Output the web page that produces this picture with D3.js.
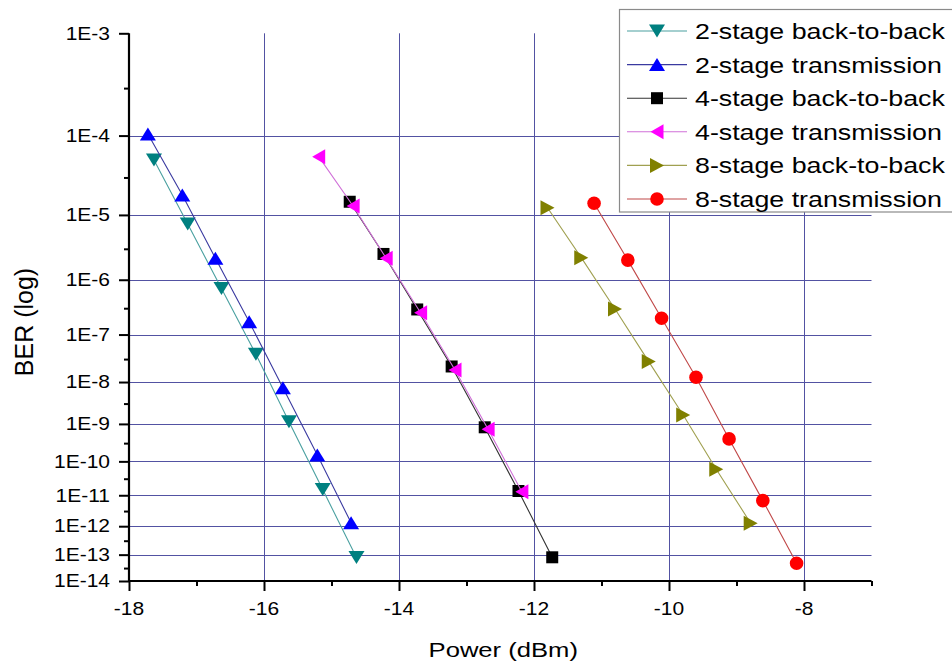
<!DOCTYPE html>
<html>
<head>
<meta charset="utf-8">
<script src="https://cdn.jsdelivr.net/npm/d3@7"></script>
<style>
  html, body { margin: 0; padding: 0; background: #fff; }
  svg { display: block; font-family: "Liberation Sans", Arial, sans-serif; }
</style>
</head>
<body>
<svg id="chart" width="952" height="665"></svg>
<script>
// ---------------- data ----------------
const seriesNames = ["2-stage back-to-back", "2-stage transmission", "4-stage back-to-back",
                     "4-stage transmission", "8-stage back-to-back", "8-stage transmission"];
const power2b2b = [-17.63, -17.13, -16.63, -16.12, -15.63, -15.13, -14.63];
const ber2b2b   = [5.2e-5, 7.4e-6, 7.1e-7, 4.0e-8, 1.14e-9, 1.5e-11, 7.8e-14];
const power2tx  = [-17.72, -17.21, -16.72, -16.22, -15.72, -15.21, -14.71];
const ber2tx    = [1.04e-4, 1.87e-5, 2.25e-6, 1.77e-7, 7.4e-9, 1.5e-10, 1.3e-12];
const power4b2b = [-14.73, -14.23, -13.73, -13.22, -12.73, -12.23, -11.73];
const ber4b2b   = [1.52e-5, 2.63e-6, 3.0e-7, 2.2e-8, 8.2e-10, 1.35e-11, 8.0e-14];
const power4tx  = [-15.19, -14.68, -14.19, -13.68, -13.17, -12.68, -12.18];
const ber4tx    = [5.7e-5, 1.33e-5, 2.25e-6, 2.6e-7, 1.85e-8, 7.3e-10, 1.28e-11];
const power8b2b = [-11.80, -11.30, -10.80, -10.30, -9.79, -9.30, -8.79];
const ber8b2b   = [1.26e-5, 2.3e-6, 3.06e-7, 2.8e-8, 1.67e-9, 6.0e-11, 1.26e-12];
const power8tx  = [-11.11, -10.61, -10.11, -9.60, -9.11, -8.61, -8.11];
const ber8tx    = [1.45e-5, 2.1e-6, 2.06e-7, 1.28e-8, 4.1e-10, 6.8e-12, 4.8e-14];

const xTickValues = [-18, -16, -14, -12, -10, -8];
const xMinorValues = [-17, -15, -13, -11, -9, -7];
const yTickExponents = [3, 4, 5, 6, 7, 8, 9, 10, 11, 12, 13, 14];
const yMinorExponents = [3.5, 4.5, 5.5, 6.5, 7.5, 8.5, 9.5, 10.5, 11.5, 12.5, 13.5];
const xTitle = "Power (dBm)";
const yTitle = "BER (log)";

// ---------------- styles ----------------
const markerColors = ["#008080", "#0000ff", "#000000", "#ff00ff", "#808000", "#ff0000"];
const lineColors   = ["#4aa0a0", "#3a3aa0", "#333333", "#d070d8", "#a0a050", "#c04848"];
const markerTypes  = ["down", "up", "square", "left", "right", "circle"];
const gridColor = "#5252a2";
const FONT_STRETCH = 1.2;

const svg = d3.select("#chart");

const x = d3.scaleLinear().domain([-18, -7]).range([129, 871.5]);
// BER axis: linear in log10(-log10(BER))
const tScale = d3.scaleLinear().domain([Math.log10(3), Math.log10(14)]).range([33.3, 581]);
const yExp = e => tScale(Math.log10(e));             // exponent n -> pixel, BER = 1E-n
const y = ber => tScale(Math.log10(-Math.log10(ber)));

const pLeft = x.range()[0], pRight = x.range()[1];
const pTop = tScale.range()[0], pBottom = tScale.range()[1];

// ---------------- grid ----------------
const grid = svg.append("g");
grid.selectAll("line.h").data(yTickExponents.filter(e => e !== 3 && e !== 14)).enter()
  .append("line")
  .attr("x1", pLeft).attr("x2", pRight)
  .attr("y1", d => Math.round(yExp(d)) + 0.5).attr("y2", d => Math.round(yExp(d)) + 0.5)
  .attr("stroke", gridColor).attr("stroke-width", 1);
grid.selectAll("line.v").data(xTickValues.filter(v => v !== -18)).enter()
  .append("line")
  .attr("y1", pTop).attr("y2", pBottom)
  .attr("x1", d => Math.round(x(d)) + 0.5).attr("x2", d => Math.round(x(d)) + 0.5)
  .attr("stroke", gridColor).attr("stroke-width", 1);

// ---------------- axes ----------------
const yAxisMajor = d3.axisLeft(d3.scaleLinear().domain(tScale.domain()).range(tScale.range()))
  .tickValues(yTickExponents.map(e => Math.log10(e))).tickSize(10).tickFormat("");
const yAxisMinor = d3.axisLeft(d3.scaleLinear().domain(tScale.domain()).range(tScale.range()))
  .tickValues(yMinorExponents.map(e => Math.log10(e))).tickSize(5).tickFormat("");
const gy1 = svg.append("g").attr("transform", `translate(${pLeft},0)`).call(yAxisMajor);
const gy2 = svg.append("g").attr("transform", `translate(${pLeft},0)`).call(yAxisMinor);
gy2.select(".domain").remove();

const xAxisMajor = d3.axisBottom(x).tickValues(xTickValues).tickSize(10).tickFormat("");
const xAxisMinor = d3.axisBottom(x).tickValues(xMinorValues).tickSize(5).tickFormat("");
const gx1 = svg.append("g").attr("transform", `translate(0,${pBottom})`).call(xAxisMajor);
const gx2 = svg.append("g").attr("transform", `translate(0,${pBottom})`).call(xAxisMinor);
gx2.select(".domain").remove();

[gy1, gy2, gx1, gx2].forEach(g => {
  g.selectAll("path.domain").attr("stroke", "#000").attr("stroke-width", 2.2);
  g.selectAll(".tick line").attr("stroke", "#000").attr("stroke-width", 2);
});
gy1.select("path.domain").attr("d", `M0,${pTop}V${pBottom + 1}`);
gx1.select("path.domain").attr("d", `M${pLeft - 1},0H${pRight}`);

// tick labels (horizontally stretched like the reference)
const labels = svg.append("g").attr("font-size", 17.5).attr("fill", "#000");
yTickExponents.forEach(e => {
  labels.append("text")
    .attr("transform", `translate(${pLeft - 19},${yExp(e) + 6.3}) scale(${FONT_STRETCH},1)`)
    .attr("text-anchor", "end").text("1E-" + e);
});
xTickValues.forEach(v => {
  labels.append("text")
    .attr("transform", `translate(${x(v)},${pBottom + 34}) scale(${FONT_STRETCH},1)`)
    .attr("text-anchor", "middle").text(String(v));
});

// axis titles
svg.append("text")
  .attr("transform", `translate(${(pLeft + pRight) / 2 + 3},656.5) scale(1.22,1)`)
  .attr("text-anchor", "middle").attr("font-size", 21).text(xTitle);
svg.append("text")
  .attr("transform", `translate(33,322) rotate(-90)`)
  .attr("text-anchor", "middle").attr("font-size", 25).text(yTitle);

// ---------------- markers ----------------
function markerPath(type, cx, cy) {
  switch (type) {
    case "down":  return `M${cx - 8},${cy - 6.5}L${cx + 8},${cy - 6.5}L${cx},${cy + 6.5}Z`;
    case "up":    return `M${cx - 8},${cy + 6.5}L${cx + 8},${cy + 6.5}L${cx},${cy - 6.5}Z`;
    case "left":  return `M${cx + 6.5},${cy - 7.5}L${cx + 6.5},${cy + 7.5}L${cx - 6.5},${cy}Z`;
    case "right": return `M${cx - 7},${cy - 7.5}L${cx - 7},${cy + 7.5}L${cx + 7},${cy}Z`;
    case "square":return `M${cx - 6},${cy - 6}h12v12h-12Z`;
    case "circle":return `M${cx - 6.8},${cy}a6.8,6.8 0 1,0 13.6,0a6.8,6.8 0 1,0 -13.6,0Z`;
  }
}

const seriesData = [
  [power2b2b, ber2b2b], [power2tx, ber2tx], [power4b2b, ber4b2b],
  [power4tx, ber4tx], [power8b2b, ber8b2b], [power8tx, ber8tx]
].map(([p, b]) => p.map((v, i) => ({ p: v, ber: b[i] })));

const line = d3.line().x(d => x(d.p)).y(d => y(d.ber));
const plot = svg.append("g");
seriesData.forEach((data, si) => {
  const g = plot.append("g");
  g.append("path").datum(data).attr("d", line)
    .attr("fill", "none").attr("stroke", lineColors[si]).attr("stroke-width", 1.1);
  g.selectAll("path.m").data(data).enter().append("path")
    .attr("d", d => markerPath(markerTypes[si], x(d.p), y(d.ber)))
    .attr("fill", markerColors[si]);
});

// ---------------- legend ----------------
const lg = svg.append("g");
lg.append("rect").attr("x", 619.5).attr("y", 9.5).attr("width", 360).attr("height", 202.5)
  .attr("fill", "#fff").attr("stroke", "#8a8a8a").attr("stroke-width", 1.2);
seriesNames.forEach((name, i) => {
  const cy = 31 + i * 33.6;
  lg.append("line").attr("x1", 627).attr("x2", 687).attr("y1", cy).attr("y2", cy)
    .attr("stroke", lineColors[i]).attr("stroke-width", 1.1);
  lg.append("path").attr("d", markerPath(markerTypes[i], 657, cy)).attr("fill", markerColors[i]);
  lg.append("text")
    .attr("transform", `translate(695,${cy + 8}) scale(1.2,1)`)
    .attr("font-size", 22.3).attr("fill", "#000").text(name);
});
</script>
</body>
</html>
